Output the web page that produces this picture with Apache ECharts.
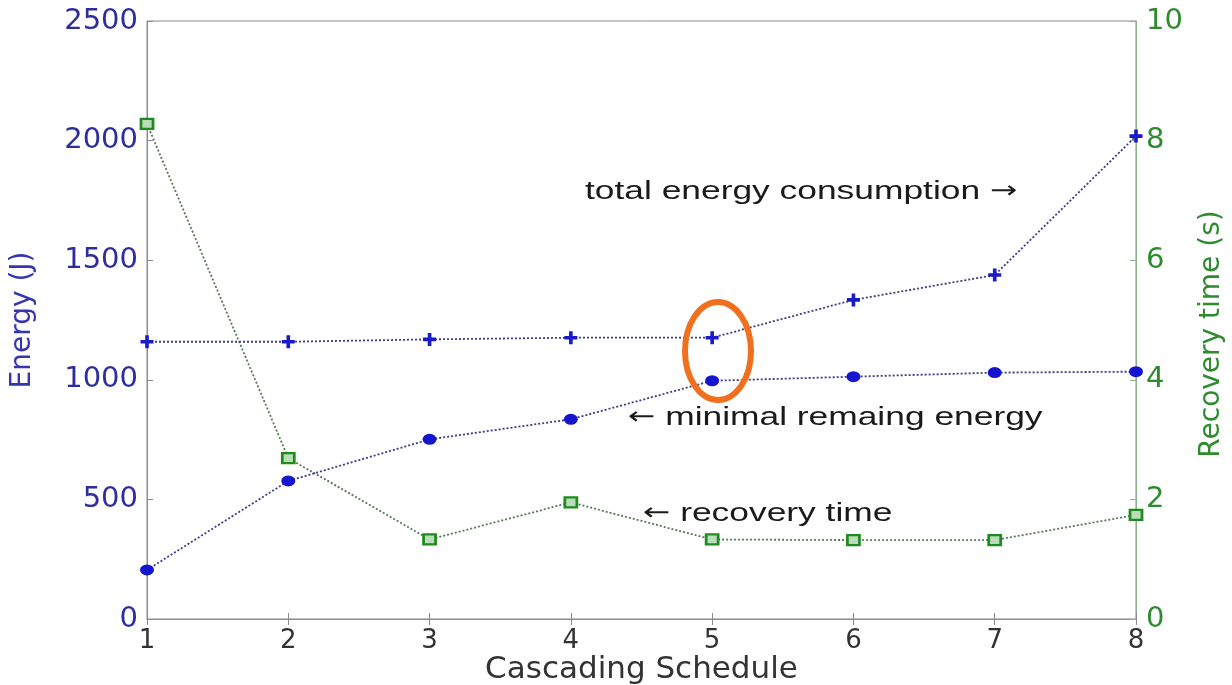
<!DOCTYPE html>
<html>
<head>
<meta charset="utf-8">
<script src="https://cdn.jsdelivr.net/npm/echarts@6/dist/echarts.min.js"></script>
<style>
  html, body { margin: 0; padding: 0; background: #fff; }
  #chart { width: 1232px; height: 685px; }
</style>
</head>
<body>
<div id="chart"></div>
<script>
// Cascading schedule index
const schedule = [1, 2, 3, 4, 5, 6, 7, 8];
// Energy (J)
const totalEnergy = [1159, 1159, 1169, 1176, 1176, 1334, 1438, 2019];
const minRemaining = [205, 577, 751, 835, 996, 1013, 1030, 1034];
// Recovery time (s)
const recoveryTime = [8.28, 2.69, 1.33, 1.95, 1.33, 1.32, 1.32, 1.74];

const energyTicks = { min: 0, max: 2500, interval: 500 };
const timeTicks = { min: 0, max: 10, interval: 2 };

const FONT = 'DejaVu Sans';
const BLUE = '#2d2d9e';
const GREEN = '#2e8b2e';
const PLUS = 'path://M3.6,0H6.4V3.6H10V6.4H6.4V10H3.6V6.4H0V3.6H3.6Z';
const plain = (v) => String(v);

const pairs = (ys) => schedule.map((x, i) => [x, ys[i]]);

// Annotation text, drawn a little wide; arrows come from DejaVu Sans
const note = (text, x, y) => ({
  type: 'text', x: x, y: y, scaleX: 1.36,
  style: {
    text: text,
    font: '26px "Liberation Sans"', fill: '#1a1a1a',
    verticalAlign: 'middle', textVerticalAlign: 'middle',
    rich: {
      arr: { fontFamily: 'DejaVu Sans', fontSize: 24, fill: '#1a1a1a', fontWeight: 'normal' }
    }
  },
  z: 5
});

const chart = echarts.init(document.getElementById('chart'), null, { renderer: 'canvas' });

chart.setOption({
  animation: false,
  backgroundColor: '#fff',
  grid: {
    left: 147, right: 96, top: 21, bottom: 66,
    containLabel: false, outerBoundsMode: 'none',
    show: true, borderColor: '#8c8c8c', borderWidth: 1
  },
  xAxis: [{
    type: 'value', min: 1, max: 8, interval: 1,
    name: 'Cascading Schedule', nameLocation: 'middle', nameGap: 35, nameMoveOverlap: false,
    nameTextStyle: { fontFamily: FONT, fontSize: 31, color: '#333' },
    axisLine: { lineStyle: { color: '#8c8c8c', width: 1 } },
    axisTick: { inside: true, length: 6, lineStyle: { color: '#8c8c8c' } },
    axisLabel: { fontFamily: FONT, fontSize: 26, color: '#333', margin: 9, formatter: plain },
    splitLine: { show: false }
  }, {
    type: 'value', min: 1, max: 8, interval: 1, position: 'top',
    axisLine: { lineStyle: { color: '#8c8c8c', width: 1 } },
    axisTick: { inside: true, length: 6, lineStyle: { color: '#8c8c8c' } },
    axisLabel: { show: false },
    splitLine: { show: false }
  }],
  yAxis: [{
    type: 'value', ...energyTicks, position: 'left',
    name: 'Energy (J)', nameLocation: 'middle', nameGap: 110, nameRotate: 90, nameMoveOverlap: false,
    nameTextStyle: { fontFamily: FONT, fontSize: 28, color: '#3535b0' },
    axisLine: { show: true, lineStyle: { color: '#8c8c8c', width: 1 } },
    axisTick: { show: true, inside: true, length: 6, lineStyle: { color: '#8c8c8c' } },
    axisLabel: { fontFamily: FONT, fontSize: 29, color: BLUE, margin: 9, formatter: plain },
    splitLine: { show: false }
  }, {
    type: 'value', ...timeTicks, position: 'right',
    name: 'Recovery time (s)', nameLocation: 'middle', nameGap: 62, nameRotate: 90, nameMoveOverlap: false,
    nameTextStyle: { fontFamily: FONT, fontSize: 28, color: GREEN, padding: [0, 28, 0, 0] },
    axisLine: { show: true, lineStyle: { color: '#8fb08f', width: 1 } },
    axisTick: { show: true, inside: true, length: 6, lineStyle: { color: '#8fb08f' } },
    axisLabel: { fontFamily: FONT, fontSize: 29, color: GREEN, margin: 10, formatter: plain },
    splitLine: { show: false }
  }],
  series: [{
    name: 'total energy consumption',
    type: 'line', xAxisIndex: 0, yAxisIndex: 0,
    data: pairs(totalEnergy),
    symbol: PLUS, symbolSize: 13,
    itemStyle: { color: '#1a1ac8' },
    lineStyle: { color: '#3c3c88', width: 1.8, type: [2, 2] },
    z: 3
  }, {
    name: 'minimal remaing energy',
    type: 'line', xAxisIndex: 0, yAxisIndex: 0,
    data: pairs(minRemaining),
    symbol: 'circle', symbolSize: [14, 11],
    itemStyle: { color: '#1515d0' },
    lineStyle: { color: '#3c3c88', width: 1.8, type: [2, 2] },
    z: 3
  }, {
    name: 'recovery time',
    type: 'line', xAxisIndex: 0, yAxisIndex: 1,
    data: pairs(recoveryTime),
    symbol: 'rect', symbolSize: [12, 10],
    itemStyle: { color: '#b9dcb9', borderColor: '#1f8a1f', borderWidth: 2.5 },
    lineStyle: { color: '#587858', width: 1.8, type: [2, 2] },
    z: 2
  }],
  graphic: [
    note('total energy consumption {arr|\u2192}', 585, 192),
    note('{arr|\u2190} minimal remaing energy', 628, 418),
    note('{arr|\u2190} recovery time', 643, 514),
    {
      type: 'ellipse',
      shape: { cx: 718, cy: 351, rx: 33, ry: 49 },
      style: { fill: 'none', stroke: '#f07020', lineWidth: 6 },
      z: 10
    }
  ]
});
</script>
</body>
</html>
